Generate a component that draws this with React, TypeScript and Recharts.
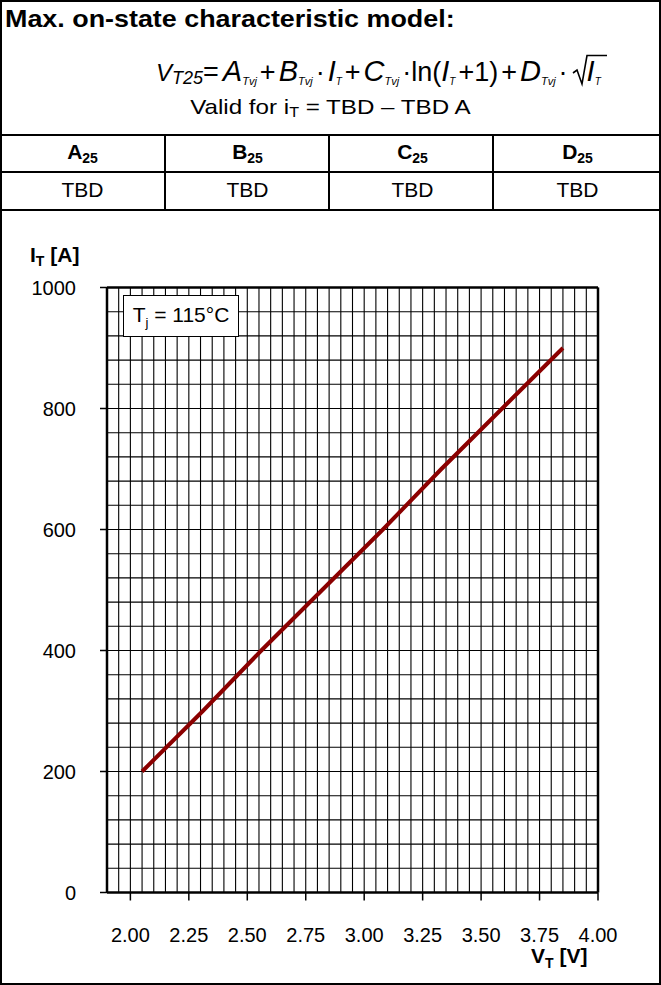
import React from 'react';
import { LineChart, Line, XAxis, YAxis, CartesianGrid, ReferenceLine } from 'recharts';

// on-state curve
const voltage = [2.05, 2.31, 2.56, 2.82, 3.08, 3.33, 3.59, 3.85];
const current = [200, 300, 400, 500, 600, 700, 800, 900];

const xTicks = [2.0, 2.25, 2.5, 2.75, 3.0, 3.25, 3.5, 3.75, 4.0];
const yTicks = [0, 200, 400, 600, 800, 1000];

// fine grid: 0.05 V x 40 A
const gridV = Array.from({ length: 43 }, (_, k) => +(1.9 + k * 0.05).toFixed(2));
const gridI = Array.from({ length: 26 }, (_, k) => k * 40);

const coeffNames = ['A', 'B', 'C', 'D'];
const coeffValues = ['TBD', 'TBD', 'TBD', 'TBD'];

const FONT = '"Liberation Sans", Arial, Helvetica, sans-serif';

const data = voltage.map((v, k) => ({ v, i: current[k] }));

function Coef({ c }: { c: string }) {
  return (
    <span>
      <span style={{ fontSize: 29 }}>{c}</span>
      <span style={{ fontSize: 11, position: 'relative', top: 4 }}>Tvj</span>
    </span>
  );
}

function IT() {
  return (
    <span>
      <span style={{ fontSize: 29 }}>I</span>
      <span style={{ fontSize: 10, position: 'relative', top: 4 }}>T</span>
    </span>
  );
}

// radical sign drawn as a small svg so the bar joins the hook
function Sqrt() {
  return (
    <span style={{ position: 'relative', display: 'inline-block', paddingLeft: 14, marginLeft: 2 }}>
      <svg
        width={36}
        height={34}
        style={{ position: 'absolute', left: 0, top: 3, overflow: 'visible' }}
      >
        <polyline
          points="0,19 4,16 9,30 14,1.5 34,1.5"
          fill="none"
          stroke="#000"
          strokeWidth={1.6}
        />
      </svg>
      <IT />
    </span>
  );
}

function Formula() {
  const op = { fontStyle: 'normal' as const, fontSize: 27, margin: '0 3px' };
  return (
    <div
      style={{
        position: 'absolute',
        left: 156,
        top: 51,
        fontStyle: 'italic',
        whiteSpace: 'nowrap',
        lineHeight: '40px',
      }}
    >
      <span style={{ fontSize: 24 }}>V</span>
      <span style={{ fontSize: 18, position: 'relative', top: 3 }}>T25</span>
      <span style={{ ...op, margin: '0 4px 0 0' }}>=</span>
      <Coef c="A" />
      <span style={op}>+</span>
      <Coef c="B" />
      <span style={op}>·</span>
      <IT />
      <span style={op}>+</span>
      <Coef c="C" />
      <span style={{ ...op, margin: '0 0 0 3px' }}>·ln(</span>
      <IT />
      <span style={{ ...op, margin: '0 0 0 3px' }}>+1)</span>
      <span style={op}>+</span>
      <Coef c="D" />
      <span style={op}>·</span>
      <Sqrt />
    </div>
  );
}

const hLine = (top: number) => (
  <div key={`h${top}`} style={{ position: 'absolute', left: 0, width: 661, top: top - 1, height: 2, background: '#000' }} />
);

export default function App() {
  return (
    <div
      style={{
        position: 'absolute',
        left: 0,
        top: 0,
        width: 661,
        height: 985,
        background: '#fff',
        fontFamily: FONT,
        color: '#000',
      }}
    >
      <div
        style={{
          position: 'absolute',
          left: 5,
          top: 5,
          fontSize: 24,
          fontWeight: 'bold',
          whiteSpace: 'nowrap',
          transform: 'scaleX(1.12)',
          transformOrigin: 'left center',
        }}
      >
        Max. on-state characteristic model:
      </div>
      <Formula />
      <div
        style={{
          position: 'absolute',
          left: 0,
          width: 661,
          top: 95,
          textAlign: 'center',
          fontSize: 21,
          transform: 'scaleX(1.15)',
          transformOrigin: '331px center',
        }}
      >
        Valid for i<sub style={{ fontSize: 14, verticalAlign: -3 }}>T</sub> = TBD – TBD A
      </div>

      {hLine(135)}
      {hLine(172)}
      {hLine(210)}
      {[165, 329, 493].map((x) => (
        <div key={x} style={{ position: 'absolute', left: x - 1, top: 135, width: 2, height: 75, background: '#000' }} />
      ))}
      {coeffNames.map((n, k) => (
        <div
          key={n}
          style={{ position: 'absolute', left: k * 165, width: 165, top: 140, textAlign: 'center', fontSize: 21, fontWeight: 'bold' }}
        >
          {n}
          <sub style={{ fontSize: 14, verticalAlign: -4 }}>25</sub>
        </div>
      ))}
      {coeffValues.map((t, k) => (
        <div key={k} style={{ position: 'absolute', left: k * 165, width: 165, top: 178, textAlign: 'center', fontSize: 21 }}>
          {t}
        </div>
      ))}

      <div style={{ position: 'absolute', left: 0, top: 210 }}>
        <LineChart width={661} height={775} data={data} margin={{ top: 77.5, right: 63, bottom: 0, left: 0 }}>
          <CartesianGrid stroke="#000" strokeWidth={1.1} horizontalValues={gridI} verticalValues={gridV} />
          <XAxis
            dataKey="v"
            type="number"
            domain={[1.9, 4.0]}
            ticks={xTicks}
            interval={0}
            allowDataOverflow
            height={92.5}
            tickSize={8}
            tickMargin={27}
            tickFormatter={(v: number) => v.toFixed(2)}
            axisLine={{ stroke: '#000', strokeWidth: 2.5 }}
            tickLine={{ stroke: '#000', strokeWidth: 1.5 }}
            tick={{ fill: '#000', fontSize: 20, fontFamily: FONT }}
          />
          <YAxis
            type="number"
            domain={[0, 1000]}
            ticks={yTicks}
            interval={0}
            allowDataOverflow
            width={107}
            tickSize={7}
            tickMargin={24}
            axisLine={{ stroke: '#000', strokeWidth: 2.5 }}
            tickLine={{ stroke: '#000', strokeWidth: 1.5 }}
            tick={{ fill: '#000', fontSize: 20, fontFamily: FONT }}
          />
          <ReferenceLine y={1000} stroke="#000" strokeWidth={2.5} />
          <ReferenceLine x={4.0} stroke="#000" strokeWidth={2.5} />
          <Line
            dataKey="i"
            type="linear"
            stroke="#8b0000"
            strokeWidth={4}
            dot={false}
            isAnimationActive={false}
          />
        </LineChart>
      </div>

      <div style={{ position: 'absolute', left: 30, top: 243, fontSize: 21, fontWeight: 'bold', whiteSpace: 'nowrap' }}>
        I<sub style={{ fontSize: 14, verticalAlign: -4 }}>T</sub> [A]
      </div>
      <div style={{ position: 'absolute', left: 531, top: 944, fontSize: 21, fontWeight: 'bold', whiteSpace: 'nowrap' }}>
        V<sub style={{ fontSize: 14, verticalAlign: -5 }}>T</sub> [V]
      </div>

      <div
        style={{
          position: 'absolute',
          left: 123,
          top: 295,
          width: 116,
          height: 42,
          boxSizing: 'border-box',
          border: '1px solid #000',
          background: '#fff',
          fontSize: 21,
          lineHeight: '38px',
          textAlign: 'center',
          whiteSpace: 'nowrap',
        }}
      >
        T<sub style={{ fontSize: 13, verticalAlign: -5 }}>j</sub> = 115°C
      </div>

      <div
        style={{
          position: 'absolute',
          left: 0,
          top: 0,
          width: 661,
          height: 985,
          boxSizing: 'border-box',
          border: '2px solid #000',
          pointerEvents: 'none',
        }}
      />
    </div>
  );
}
